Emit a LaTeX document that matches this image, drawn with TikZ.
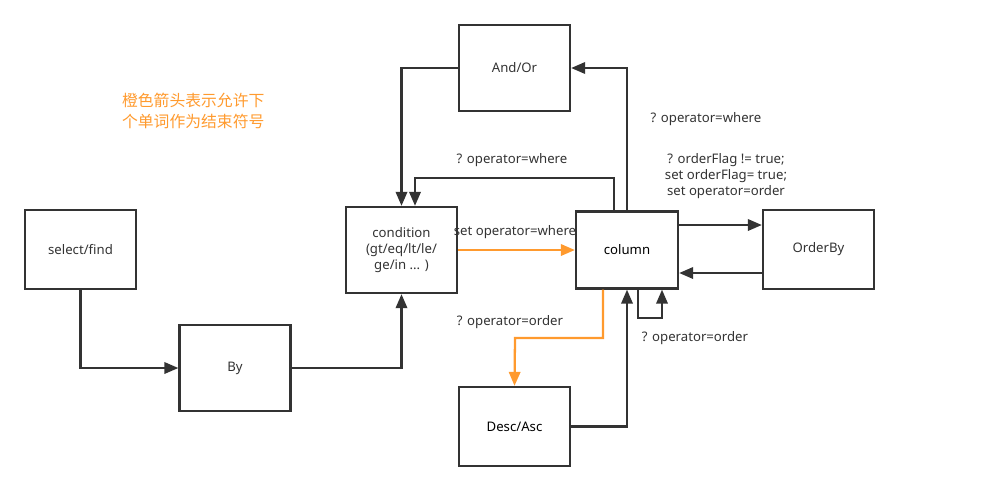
\documentclass[tikz,border=0pt]{standalone}
\usepackage{fontspec}
\setmainfont{Noto Sans}
\newfontfamily\cjk{Noto Sans CJK SC}
\usetikzlibrary{arrows.meta}
\definecolor{ink}{HTML}{333333}
\definecolor{orng}{HTML}{FF9A2E}

\begin{document}
\begin{tikzpicture}[x=0.02cm, y=-0.02cm, font=\fontsize{7.5}{9}\selectfont, text=ink,
  box/.style={draw=ink, line width=1.3pt, minimum width=2.22cm, minimum height=1.58cm, inner sep=1pt},
  tall/.style={box, minimum height=1.72cm},
  lbl/.style={inner sep=1pt},
  arr/.style={draw=ink, line width=1.3pt, -{Triangle[length=8pt,width=6.5pt]}},
  oarr/.style={arr, draw=orng}]
\useasboundingbox (0,0) rectangle (986,491);
% boxes
\node[box] (sel) at (80.5,249.5) {select/find};
\node[tall] (by) at (235,368) {By};
\node[tall, align=center] (cond) at (401.5,250) {condition\\(gt/eq/lt/le/\\ge/in ... )};
\node[tall] (andor) at (514.5,68) {And/Or};
\node[box, minimum width=2.04cm, minimum height=1.54cm, text=black] (col) at (627,250) {column};
\node[box] (ordby) at (818.5,249.5) {OrderBy};
\node[box, font=\fontsize{7.5}{9}\selectfont\bfseries, text=black] (desc) at (514.5,426.5) {Desc/Asc};
% connectors
\draw[arr] (sel.south) |- (by.west);
\draw[arr] (by.east) -| (cond.south);
\draw[arr] (andor.west) -| (cond.north);
\draw[arr] (col.north -| 614,0) |- (415,178) -- (cond.north -| 415,0);
\draw[arr] (col.north) |- (andor.east);
\draw[oarr] (cond.east) -- (col.west);
\draw[arr] (col.east |- 0,225) -- (ordby.west |- 0,225);
\draw[arr] (ordby.west |- 0,273) -- (col.east |- 0,273);
\draw[arr] (col.south -| 638,0) -- (638,318) -| (col.south -| 662,0);
\draw[oarr] (col.south -| 603,0) |- (515,338) -- (desc.north);
\draw[arr] (desc.east) -| (col.south);
% labels
\node[lbl] (lwhere1) at (512,160) {? operator=where};
\node[lbl] (lwhere2) at (706,119) {? operator=where};
\node[lbl] (lset) at (515,232) {set operator=where};
\node[lbl, align=center] (lflag) at (726,176) {? orderFlag != true;\\set orderFlag= true;\\set operator=order};
\node[lbl] (lord1) at (510,322) {? operator=order};
\node[lbl] (lord2) at (695,338) {? operator=order};
\node[lbl, text=orng, align=left, anchor=west, font=\cjk\fontsize{9}{12}\selectfont] (note) at (120,111) {橙色箭头表示允许下\\个单词作为结束符号};
\end{tikzpicture}
\end{document}
